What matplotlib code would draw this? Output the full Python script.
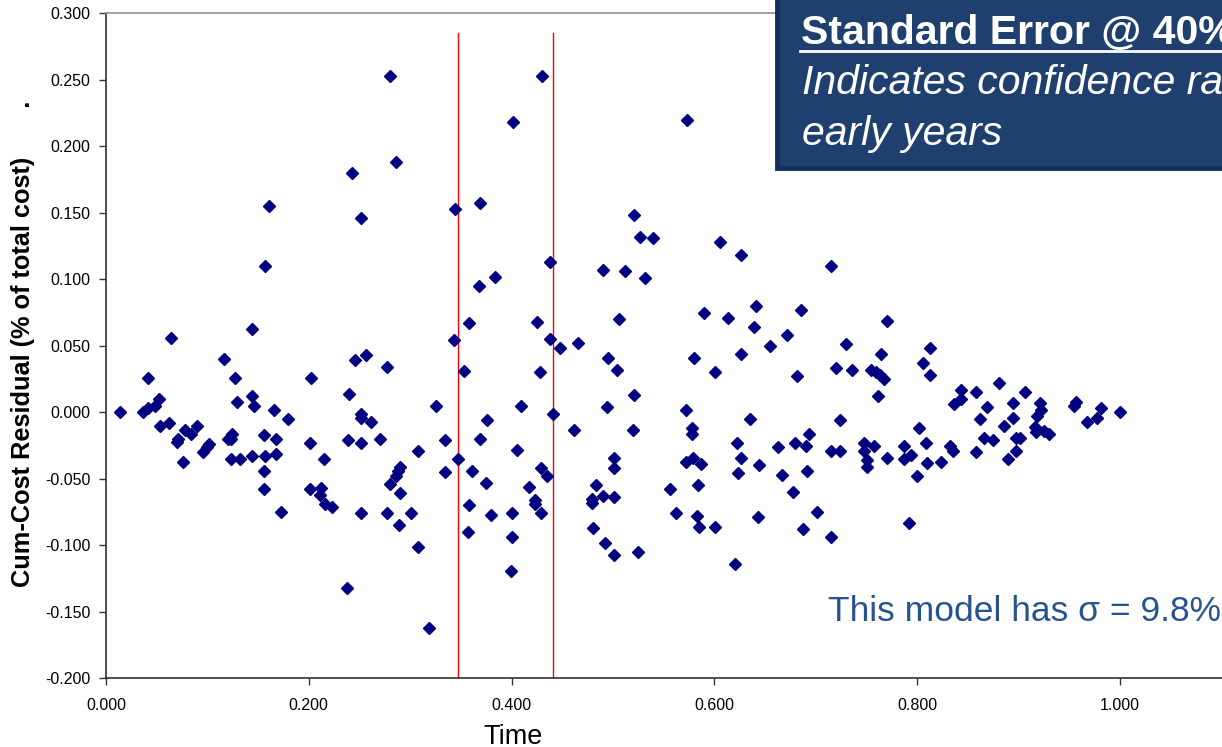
import matplotlib
matplotlib.use("Agg")
import matplotlib.pyplot as plt
from matplotlib.patches import Rectangle
from matplotlib.lines import Line2D

plt.rcParams['font.family'] = ['Liberation Sans', 'DejaVu Sans']

W, H = 1222, 747

time_vals = [
    0.014, 0.036, 0.041, 0.041, 0.048, 0.052, 0.053, 0.062, 0.064, 0.070,
    0.071, 0.076, 0.078, 0.084, 0.090, 0.096, 0.100, 0.102, 0.116, 0.120,
    0.123, 0.124, 0.123, 0.127, 0.129, 0.132, 0.144, 0.144, 0.146, 0.144,
    0.157, 0.156, 0.157, 0.156, 0.156, 0.166, 0.168, 0.168, 0.179, 0.161,
    0.173, 0.202, 0.201, 0.201, 0.280, 0.430, 0.401, 0.286, 0.243, 0.251,
    0.344, 0.369, 0.438, 0.490, 0.384, 0.368, 0.358, 0.425, 0.343, 0.438,
    0.448, 0.465, 0.495, 0.504, 0.506, 0.353, 0.428, 0.246, 0.256, 0.277,
    0.240, 0.251, 0.251, 0.261, 0.325, 0.409, 0.494, 0.441, 0.376, 0.462,
    0.239, 0.251, 0.270, 0.334, 0.369, 0.405, 0.215, 0.308, 0.347, 0.501,
    0.501, 0.290, 0.288, 0.286, 0.334, 0.361, 0.429, 0.435, 0.280, 0.375,
    0.417, 0.483, 0.212, 0.211, 0.290, 0.423, 0.479, 0.490, 0.501, 0.216,
    0.223, 0.251, 0.277, 0.301, 0.289, 0.308, 0.238, 0.319, 0.358, 0.357,
    0.380, 0.400, 0.423, 0.429, 0.400, 0.399, 0.479, 0.480, 0.492, 0.501,
    0.573, 0.521, 0.527, 0.539, 0.606, 0.626, 0.715, 0.512, 0.532, 0.590,
    0.613, 0.641, 0.685, 0.770, 0.639, 0.672, 0.730, 0.655, 0.764, 0.580,
    0.626, 0.601, 0.681, 0.720, 0.736, 0.754, 0.759, 0.763, 0.767, 0.806,
    0.761, 0.521, 0.572, 0.635, 0.724, 0.520, 0.578, 0.578, 0.693, 0.802,
    0.622, 0.663, 0.679, 0.690, 0.715, 0.724, 0.748, 0.757, 0.748, 0.750,
    0.750, 0.770, 0.787, 0.787, 0.794, 0.572, 0.579, 0.587, 0.626, 0.644,
    0.691, 0.623, 0.667, 0.800, 0.556, 0.584, 0.678, 0.562, 0.583, 0.585,
    0.601, 0.643, 0.701, 0.687, 0.715, 0.792, 0.620, 0.525, 0.813, 0.813,
    0.843, 0.858, 0.881, 0.906, 0.843, 0.836, 0.869, 0.894, 0.921, 0.922,
    0.918, 0.955, 0.957, 0.981, 0.977, 0.967, 1.000, 0.862, 0.894, 0.886,
    0.916, 0.917, 0.925, 0.930, 0.866, 0.875, 0.897, 0.901, 0.809, 0.832,
    0.835, 0.810, 0.823, 0.858, 0.897, 0.890,
]

resid_vals = [
    0.000, 0.000, 0.003, 0.026, 0.005, 0.010, -0.010, -0.008, 0.056, -0.022,
    -0.020, -0.037, -0.013, -0.016, -0.010, -0.030, -0.026, -0.024, 0.040, -0.020,
    -0.020, -0.016, -0.035, 0.026, 0.008, -0.035, -0.033, 0.012, 0.005, 0.063,
    0.110, -0.017, -0.033, -0.044, -0.058, 0.002, -0.020, -0.031, -0.005, 0.155,
    -0.075, 0.026, -0.023, -0.058, 0.253, 0.253, 0.218, 0.188, 0.180, 0.146,
    0.153, 0.157, 0.113, 0.107, 0.102, 0.095, 0.067, 0.068, 0.054, 0.055,
    0.048, 0.052, 0.041, 0.032, 0.070, 0.031, 0.030, 0.039, 0.043, 0.034,
    0.014, -0.001, -0.004, -0.007, 0.005, 0.005, 0.004, -0.001, -0.006, -0.013,
    -0.021, -0.023, -0.020, -0.021, -0.020, -0.028, -0.035, -0.029, -0.035, -0.034,
    -0.042, -0.041, -0.044, -0.048, -0.045, -0.044, -0.042, -0.048, -0.054, -0.053,
    -0.056, -0.055, -0.057, -0.062, -0.061, -0.066, -0.065, -0.063, -0.064, -0.069,
    -0.071, -0.076, -0.076, -0.076, -0.085, -0.101, -0.132, -0.162, -0.070, -0.090,
    -0.077, -0.076, -0.069, -0.076, -0.094, -0.119, -0.068, -0.087, -0.098, -0.107,
    0.220, 0.148, 0.132, 0.131, 0.128, 0.118, 0.110, 0.106, 0.101, 0.075,
    0.071, 0.080, 0.077, 0.069, 0.064, 0.058, 0.051, 0.050, 0.044, 0.041,
    0.044, 0.030, 0.027, 0.033, 0.032, 0.032, 0.030, 0.028, 0.025, 0.037,
    0.012, 0.013, 0.002, -0.005, -0.006, -0.013, -0.012, -0.016, -0.016, -0.012,
    -0.023, -0.026, -0.023, -0.025, -0.029, -0.029, -0.023, -0.025, -0.029, -0.036,
    -0.041, -0.034, -0.025, -0.035, -0.032, -0.037, -0.034, -0.039, -0.034, -0.040,
    -0.044, -0.046, -0.047, -0.048, -0.058, -0.055, -0.060, -0.076, -0.078, -0.086,
    -0.086, -0.079, -0.075, -0.088, -0.094, -0.083, -0.114, -0.105, 0.048, 0.028,
    0.017, 0.015, 0.022, 0.015, 0.010, 0.006, 0.004, 0.007, 0.007, 0.002,
    -0.003, 0.005, 0.008, 0.003, -0.004, -0.007, 0.000, -0.005, -0.004, -0.010,
    -0.011, -0.015, -0.014, -0.016, -0.019, -0.021, -0.019, -0.019, -0.023, -0.025,
    -0.029, -0.038, -0.037, -0.030, -0.029, -0.035,
]

# standard error band around the 40% point
band_bounds = [0.347, 0.441]
band_top = 0.285

x_ticks = [0.0, 0.2, 0.4, 0.6, 0.8, 1.0]
y_ticks = [-0.2, -0.15, -0.1, -0.05, 0.0, 0.05, 0.1, 0.15, 0.2, 0.25, 0.3]


def px(x, y):
    # pixel position (from top-left) -> figure fraction
    return x / W, 1 - y / H


fig = plt.figure(figsize=(W / 100, H / 100), dpi=100)
ax = fig.add_axes([106 / W, (H - 678.3) / H, 1.2 * 1014 / W, 665 / H])

ax.plot(time_vals, resid_vals, linestyle='none', marker='D', markersize=6.2,
        color='#000080', markeredgecolor='#000080', clip_on=False, zorder=3)

for b in band_bounds:
    ax.plot([b, b], [-0.2, band_top], color='#ff0000', linewidth=1.0, zorder=2)

ax.set_xlim(0, 1.2)
ax.set_ylim(-0.2, 0.3)
ax.set_xticks(x_ticks)
ax.set_yticks(y_ticks)
ax.set_xticklabels([f"{v:.3f}" for v in x_ticks])
ax.set_yticklabels([f"{v:.3f}" for v in y_ticks])
ax.tick_params(axis='both', labelsize=11.5, colors='#000000', direction='out')
ax.tick_params(axis='x', length=5, width=1.0, pad=9, color='#333333')
ax.tick_params(axis='y', length=5, width=1.0, pad=6, color='#333333')

ax.spines['right'].set_visible(False)
ax.spines['top'].set_color('#999999')
ax.spines['top'].set_linewidth(1.3)
ax.spines['left'].set_color('#404040')
ax.spines['left'].set_linewidth(1.3)
ax.spines['bottom'].set_color('#202020')
ax.spines['bottom'].set_linewidth(1.1)

# axis titles
fig.text(*px(23, 344), "Cum-Cost Residual (% of total cost)       .",
         rotation=90, fontsize=18.3, fontweight='bold', ha='center', va='center')
fig.text(*px(513, 744), "Time", fontsize=19.5, ha='center', va='baseline')

# callout box
bx0, by0 = px(777, 168)
bx1, by1 = px(1260, -10)
fig.add_artist(Rectangle((bx0, by0), bx1 - bx0, by1 - by0, transform=fig.transFigure,
                         facecolor='#1f3f6f', edgecolor='#14305a', linewidth=3.5))
fig.text(*px(801, 44), "Standard Error @ 40%", color='white', fontsize=29.5,
         fontweight='bold', ha='left', va='baseline')
ux0, uy = px(800, 50.5)
ux1, _ = px(1240, 50.5)
fig.add_artist(Line2D([ux0, ux1], [uy, uy], transform=fig.transFigure,
                      color='white', linewidth=2.0))
fig.text(*px(802, 94), "Indicates confidence range in", color='white', fontsize=29.5,
         fontstyle='italic', ha='left', va='baseline')
fig.text(*px(802, 145), "early years", color='white', fontsize=29.5,
         fontstyle='italic', ha='left', va='baseline')

fig.text(*px(828, 621), "This model has \u03c3 = 9.8%", color='#27548f',
         fontsize=25.5, ha='left', va='baseline')

fig.savefig("out.png", dpi=100)
